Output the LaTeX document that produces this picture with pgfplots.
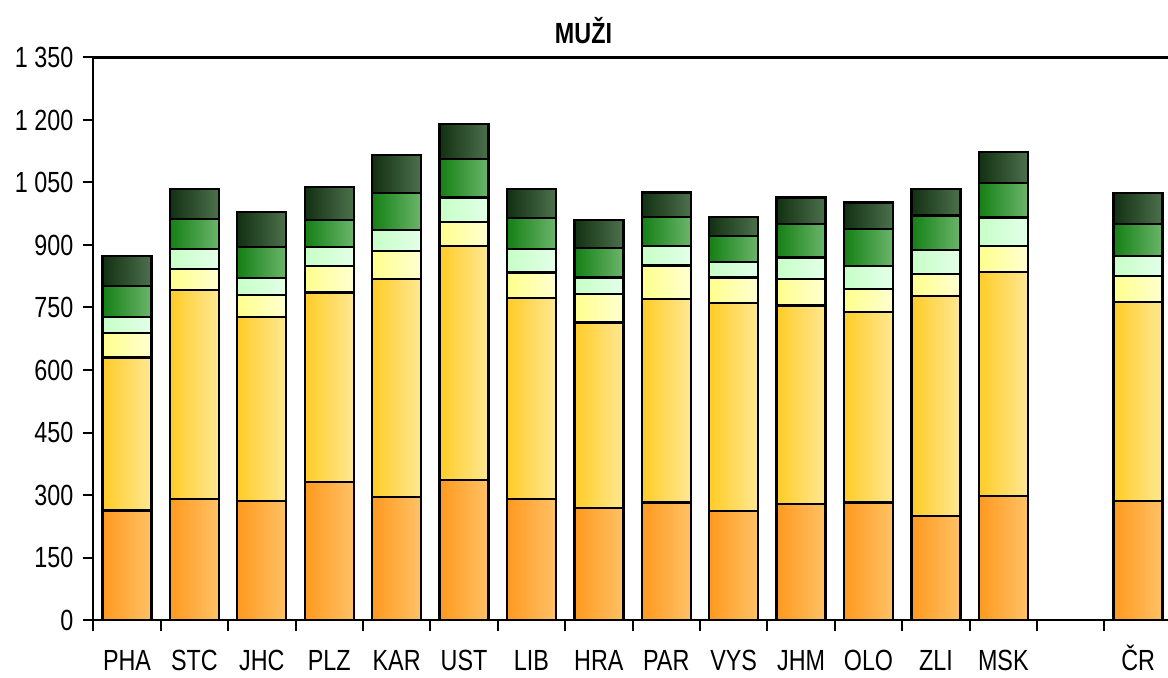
\documentclass[border=0pt]{standalone}
\usepackage{graphicx}
\usepackage{pgfplots}
\usepackage{pgfplotstable}
\pgfplotsset{compat=1.18}
\usepackage{fontspec}
\setmainfont{Liberation Sans}

% text in the reference is a bit taller than Arial
\newcommand\st[1]{\scalebox{1}[1.25]{#1}}

% horizontal gradient that repeats once per category (bar width 0.727 of a slot)
% args: name, left r g b, (right - left) r g b
\newcommand\barshade[7]{%
  \pgfdeclarefunctionalshading{#1}{\pgfpointorigin}{\pgfpoint{100bp}{100bp}}{}{%
    pop 25 sub 3.17925 div dup floor sub 0.727 div dup 1 gt {pop 1} if
    dup #5 mul #2 add exch dup #6 mul #3 add exch #7 mul #4 add}}
\barshade{orsh}{1}{0.60}{0.12}{0}{0.16}{0.28}
\barshade{yesh}{1}{0.80}{0.15}{0}{0.11}{0.43}
\barshade{lysh}{1}{1}{0.55}{0}{0}{0.27}
\barshade{lgsh}{0.78}{1}{0.78}{0.11}{0}{0.13}
\barshade{grsh}{0.08}{0.50}{0.08}{0.34}{0.21}{0.34}
\barshade{dksh}{0.07}{0.19}{0.07}{0.23}{0.25}{0.23}

% stacked segments, bottom to top
\pgfplotstableread{
x a b c d e f
0 263 367 58 39 75 72
1 291 501 50 48 72 72
2 286 442 52 41 75 83
3 332 454 64 46 64 79
4 296 522 68 50 89 91
5 336 562 58 58 92 84
6 290 482 62 56 75 69
7 268 446 68 40 70 68
8 282 488 81 47 70 58
9 262 498 62 37 63 46
10 278 477 63 52 80 64
11 282 457 56 55 88 64
12 250 528 52 58 83 63
13 298 538 62 68 82 76
15 286 478 62 48 77 73
}\muzi

\begin{document}
\begin{tikzpicture}
\begin{axis}[
    scale only axis,
    width=808.8pt, height=421.9pt,
    ybar stacked,
    bar width=0.727,
    xmin=-0.5, xmax=15.5,
    ymin=0, ymax=1350,
    ytick={0,150,...,1350},
    xtick={-0.5,0.5,...,14.5},
    xticklabels={},
    extra x ticks={0,1,2,3,4,5,6,7,8,9,10,11,12,13,15},
    extra x tick labels={\st{PHA},\st{STC},\st{JHC},\st{PLZ},\st{KAR},\st{UST},\st{LIB},\st{HRA},\st{PAR},\st{VYS},\st{JHM},\st{OLO},\st{ZLI},\st{MSK},\st{ČR}},
    extra x tick style={major tick length=0pt,
        tick label style={anchor=base, inner sep=0pt, yshift=-38pt}},
    xtick pos=bottom, ytick pos=left,
    axis line style={line width=1.6pt},
    tick style={line width=1.5pt, black},
    tick align=outside,
    major tick length=8pt,
    ticklabel style={font=\fontsize{17.5}{20}\selectfont},
    yticklabel style={xshift=-3.5pt},
    yticklabel={\st{\pgfmathprintnumber{\tick}}},
    /pgf/number format/.cd, 1000 sep={\ }, assume math mode=true,
    /pgfplots/.cd,
    every axis plot/.append style={draw=black, line width=1.7pt},
    clip=false,
]
\addplot[shade, shading=orsh] table[x=x, y=a] {\muzi};
\addplot[shade, shading=yesh] table[x=x, y=b] {\muzi};
\addplot[shade, shading=lysh] table[x=x, y=c] {\muzi};
\addplot[shade, shading=lgsh] table[x=x, y=d] {\muzi};
\addplot[shade, shading=grsh] table[x=x, y=e] {\muzi};
\addplot[shade, shading=dksh] table[x=x, y=f] {\muzi};
\coordinate (ll) at (rel axis cs:0,0);
\coordinate (ur) at (rel axis cs:1,1);
\node[font=\fontsize{17.5}{20}\selectfont\bfseries] at (rel axis cs:0.4545,1.047) {\st{MUŽI}};
\end{axis}
\pgfresetboundingbox
\path ([shift={(-70pt,-42.75pt)}]ll) rectangle ([shift={(-2.85pt,43.1pt)}]ur);
\end{tikzpicture}
\end{document}
